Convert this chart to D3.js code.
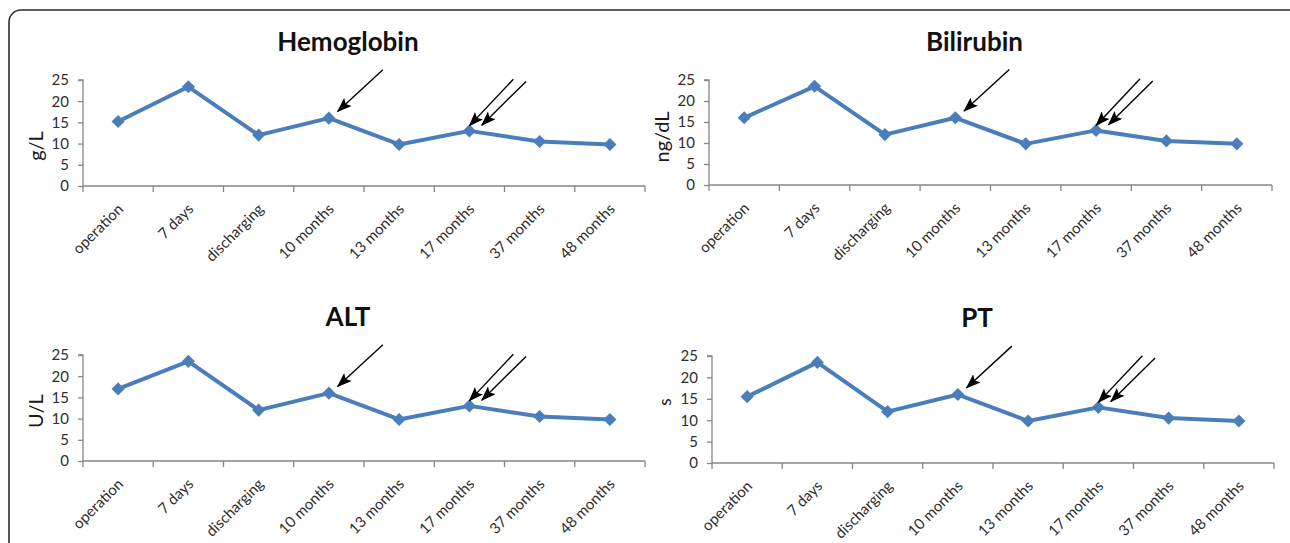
<!DOCTYPE html>
<html>
<head>
<meta charset="utf-8">
<script src="https://cdn.jsdelivr.net/npm/d3@7"></script>
<style>
  body { margin: 0; background: #fff; }
  svg text { font-family: Lato, "Liberation Sans", sans-serif; }
</style>
</head>
<body>
<svg id="chart" width="1290" height="543"></svg>
<script>
// data
var timepoints = ["operation", "7 days", "discharging", "10 months", "13 months", "17 months", "37 months", "48 months"];
var hemoglobin = [15.2, 23.4, 12.0, 16.0, 9.8, 13.0, 10.5, 9.8];
var bilirubin  = [16.0, 23.5, 12.0, 16.0, 9.8, 13.0, 10.5, 9.8];
var alt        = [17.0, 23.5, 12.0, 16.0, 9.8, 13.0, 10.5, 9.8];
var pt         = [15.5, 23.5, 12.0, 16.0, 9.8, 13.0, 10.5, 9.8];
var yTicks = [0, 5, 10, 15, 20, 25];
var titles = ["Hemoglobin", "Bilirubin", "ALT", "PT"];
var units  = ["g/L", "ng/dL", "U/L", "s"];
var singleArrowAt = "10 months";
var doubleArrowAt = "17 months";

// layout of the four panels (axis origin + size)
var panels = [
  {values: hemoglobin, left: 83,  bottom: 186, w: 562, h: 106, unitY: 146, unitSize: 20},
  {values: bilirubin,  left: 709, bottom: 185, w: 563, h: 105, unitY: 137, unitSize: 20},
  {values: alt,        left: 83,  bottom: 461, w: 562, h: 106, unitY: 411, unitSize: 20},
  {values: pt,         left: 712, bottom: 463, w: 562, h: 107, unitY: 402, unitSize: 17}
];

var lineColor = "#4a7ebb";
var axisColor = "#868686";
var textColor = "#2e2e2e";

var svg = d3.select("#chart");

// outer frame (rounded, runs off the bottom and right)
svg.append("rect")
   .attr("x", 9).attr("y", 10)
   .attr("width", 1292).attr("height", 600)
   .attr("rx", 12)
   .attr("fill", "none")
   .attr("stroke", "#2b2b2b")
   .attr("stroke-width", 1.6);

var defs = svg.append("defs");
defs.append("marker")
    .attr("id", "head")
    .attr("markerUnits", "userSpaceOnUse")
    .attr("viewBox", "0 0 15 11")
    .attr("refX", 14).attr("refY", 5.5)
    .attr("markerWidth", 15).attr("markerHeight", 11)
    .attr("orient", "auto")
  .append("path")
    .attr("d", "M0,0 L15,5.5 L0,11 L3,5.5 Z")
    .attr("fill", "#000");

panels.forEach(function(p, i) {
  var g = svg.append("g")
             .attr("transform", "translate(" + p.left + "," + (p.bottom - p.h) + ")");

  var x = d3.scaleBand()
            .domain(timepoints)
            .range([0, p.w]);
  var y = d3.scaleLinear()
            .domain([0, 25])
            .range([p.h, 0]);

  // y axis
  var yAxis = d3.axisLeft(y).tickValues(yTicks).tickSize(5).tickPadding(9);
  var ya = g.append("g").call(yAxis);
  ya.select(".domain").attr("stroke", axisColor).attr("stroke-width", 1.3).attr("d", "M0," + p.h + "V0H-5");
  ya.selectAll(".tick line").attr("stroke", axisColor).attr("stroke-width", 1.3);
  ya.selectAll(".tick text").attr("font-size", 15).attr("fill", textColor);

  // x axis: ticks on category boundaries
  var xa = g.append("g").attr("transform", "translate(0," + p.h + ")");
  xa.append("line")
    .attr("x1", 0).attr("x2", p.w)
    .attr("stroke", axisColor).attr("stroke-width", 1.3);
  xa.selectAll("line.bd")
    .data(timepoints.concat(["end"]))
    .enter().append("line")
    .attr("class", "bd")
    .attr("x1", function(d, k) { return k * x.bandwidth(); })
    .attr("x2", function(d, k) { return k * x.bandwidth(); })
    .attr("y1", 0).attr("y2", 6)
    .attr("stroke", axisColor).attr("stroke-width", 1.3);
  xa.selectAll("text")
    .data(timepoints)
    .enter().append("text")
    .attr("transform", function(d) {
      return "translate(" + (x(d) + x.bandwidth() / 2 + 6) + ",24) rotate(-45)";
    })
    .attr("text-anchor", "end")
    .attr("font-size", 15)
    .attr("fill", textColor)
    .text(function(d) { return d; });

  // title
  g.append("text")
   .attr("x", p.w / 2 - 16)
   .attr("y", -29)
   .attr("text-anchor", "middle")
   .attr("font-size", 26)
   .attr("font-weight", "bold")
   .attr("fill", "#111")
   .text(titles[i]);

  // unit label
  g.append("text")
   .attr("transform", "translate(-47," + (p.unitY - (p.bottom - p.h)) + ") rotate(-90)")
   .attr("text-anchor", "middle")
   .attr("dy", "0.35em")
   .attr("font-size", p.unitSize)
   .attr("fill", "#1a1a1a")
   .text(units[i]);

  // series line
  var line = d3.line()
               .x(function(d, k) { return x(timepoints[k]) + x.bandwidth() / 2; })
               .y(function(d) { return y(d); });
  g.append("path")
   .datum(p.values)
   .attr("d", line)
   .attr("fill", "none")
   .attr("stroke", lineColor)
   .attr("stroke-width", 4)
   .attr("stroke-linejoin", "round");

  g.selectAll("path.mk")
   .data(p.values)
   .enter().append("path")
   .attr("class", "mk")
   .attr("d", d3.symbol().type(d3.symbolDiamond2).size(110))
   .attr("transform", function(d, k) {
     return "translate(" + (x(timepoints[k]) + x.bandwidth() / 2) + "," + y(d) + ")";
   })
   .attr("fill", lineColor);

  // arrows pointing at the marked timepoints
  var k1 = timepoints.indexOf(singleArrowAt);
  var k2 = timepoints.indexOf(doubleArrowAt);
  var arrows = [
    {k: k1, tip: [8.7, -6.7], tail: [54, -48.4]},
    {k: k2, tip: [0, -5],     tail: [44, -51.7]},
    {k: k2, tip: [12.4, -5.7], tail: [56.7, -49.4]}
  ];
  g.selectAll("line.arrow")
   .data(arrows)
   .enter().append("line")
   .attr("class", "arrow")
   .attr("x1", function(a) { return x(timepoints[a.k]) + x.bandwidth() / 2 + a.tail[0]; })
   .attr("y1", function(a) { return y(p.values[a.k]) + a.tail[1]; })
   .attr("x2", function(a) { return x(timepoints[a.k]) + x.bandwidth() / 2 + a.tip[0]; })
   .attr("y2", function(a) { return y(p.values[a.k]) + a.tip[1]; })
   .attr("stroke", "#000")
   .attr("stroke-width", 1.4)
   .attr("marker-end", "url(#head)");
});
</script>
</body>
</html>
